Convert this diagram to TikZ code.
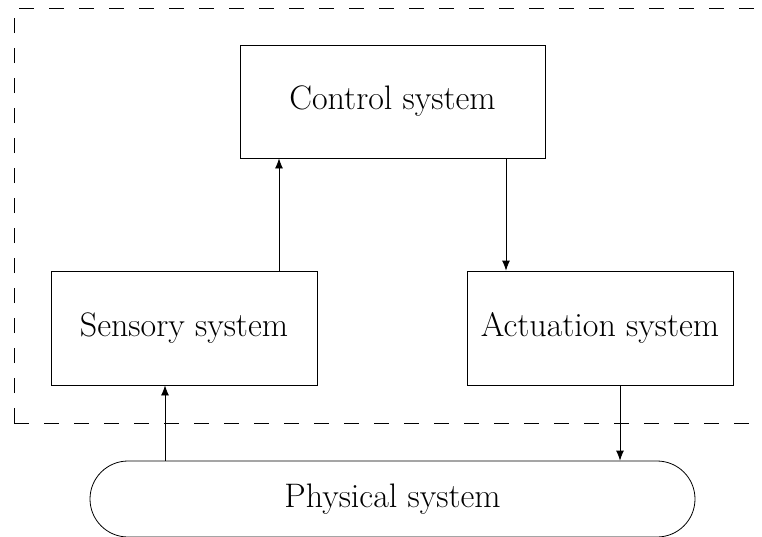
\documentclass[tikz,border=0pt]{standalone}
\usetikzlibrary{arrows.meta,shapes.misc}
\begin{document}
\begin{tikzpicture}[x=1pt,y=-1pt,line width=0.8pt,
  font=\fontsize{34}{41}\selectfont,
  sysbox/.style={draw,rectangle,inner sep=0pt},
  conn/.style={-{Latex[length=10pt,width=8pt]}},
  boundary/.style={draw,dash pattern=on 15pt off 15pt}]
\useasboundingbox (0,0) rectangle (762,536);
\draw[boundary] (14,423) -- (14,8) -- (790,8);
\draw[boundary] (14,423) -- (790,423);
\node[sysbox,minimum width=305pt,minimum height=113pt] (ctrl) at (392.5,101.5) {Control system};
\node[sysbox,minimum width=266pt,minimum height=114pt] (sense) at (184,328) {Sensory system};
\node[sysbox,minimum width=266pt,minimum height=114pt] (act) at (600,328) {Actuation system};
\node[draw,rounded rectangle,inner sep=0pt,minimum width=605pt,minimum height=76pt] (phys) at (392.5,499) {Physical system};
\coordinate (xa) at (279,0);
\coordinate (xb) at (506,0);
\coordinate (xc) at (165,0);
\coordinate (xd) at (620,0);
\draw[conn] (sense.north -| xa) -- (ctrl.south -| xa);
\draw[conn] (ctrl.south -| xb) -- (act.north -| xb);
\draw[conn] (phys.north -| xc) -- (sense.south -| xc);
\draw[conn] (act.south -| xd) -- (phys.north -| xd);
\end{tikzpicture}
\end{document}
